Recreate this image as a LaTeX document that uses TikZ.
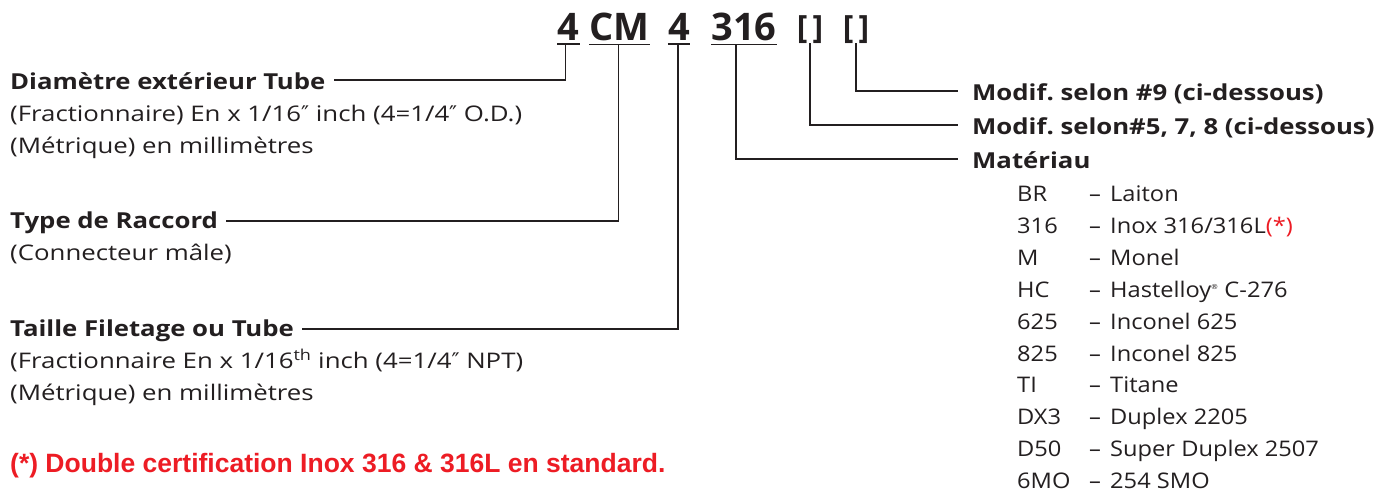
\documentclass[tikz,border=0pt]{standalone}
\usepackage{fontspec}
\setmainfont{Open Sans}
\newfontfamily\headfont{Open Sans}[FakeStretch=1.17]
\newfontfamily\bodyfont{Open Sans}[FakeStretch=1.2]
\newfontfamily\listfont{Open Sans}[FakeStretch=1.1]
\newfontfamily\notefont{Liberation Sans}
\newfontfamily\symfont{DejaVu Sans}
\newcommand{\dprime}{{\symfont ″}}
\usetikzlibrary{positioning}
\definecolor{inkGray}{HTML}{231F20}
\definecolor{noteRed}{HTML}{ED1C24}
\tikzset{
  codepart/.style={inner sep=0pt, anchor=base, text=inkGray,
    font=\fontsize{38}{40}\selectfont\bfseries},
  codebracket/.style={inner sep=0pt, anchor=base, text=inkGray,
    font=\fontsize{32}{34}\selectfont\bfseries},
  head/.style={inner sep=0pt, anchor=base west, text=inkGray,
    font=\headfont\fontsize{22}{26}\selectfont\bfseries\frenchspacing},
  body/.style={inner sep=0pt, anchor=base west, text=inkGray,
    font=\bodyfont\fontsize{21.5}{26}\selectfont},
  item/.style={inner sep=0pt, anchor=base west, text=inkGray,
    font=\listfont\fontsize{21.5}{26}\selectfont},
  leader/.style={line width=1.7pt, draw=inkGray},
}
\begin{document}
\begin{tikzpicture}[x=1pt, y=-1pt]
    \useasboundingbox[fill=white] (0,0) rectangle (1388,491);
    % code de commande
    \node[codepart] (c1) at (568.5,40) {4};
    \node[codepart] (c2) at (619.5,40) {CM};
    \node[codepart] (c3) at (679,40) {4};
    \node[codepart] (c4) at (744,40) {316};
    \node[codebracket] (b1) at (810,38) {[\hspace{5pt}]};
    \node[codebracket] (b2) at (856,38) {[\hspace{5pt}]};
    \foreach \c in {c1,c2,c3,c4}
        \draw[leader] ([yshift=-4pt]\c.south west) -- ([yshift=-4pt]\c.south east);
    % textes de gauche
    \node[head] (diam) at (10,89) {Diamètre extérieur Tube};
    \node[body] (diamA) at (10,121) {(Fractionnaire) En x 1/16\dprime{} inch (4=1/4\dprime{} O.D.)};
    \node[body] (diamB) at (10,153) {(Métrique) en millimètres};
    \node[head] (typ) at (10,228) {Type de Raccord};
    \node[body] (typA) at (10,260) {(Connecteur mâle)};
    \node[head] (tail) at (10,336) {Taille Filetage ou Tube};
    \node[body] (tailA) at (10,368) {(Fractionnaire En x 1/16\textsuperscript{th} inch (4=1/4\dprime{} NPT)};
    \node[body] (tailB) at (10,400) {(Métrique) en millimètres};
    \node[inner sep=0pt, anchor=base west, text=noteRed,
        font=\notefont\fontsize{26.5}{30}\selectfont\bfseries] (note) at (10,472)
        {(*) Double certification Inox 316 \& 316L en standard.};
    % textes de droite
    \node[head] (m9) at (972,100) {Modif. selon \#9 (ci-dessous)};
    \node[head] (m578) at (972,134) {Modif. selon\#5, 7, 8 (ci-dessous)};
    \node[head] (mat) at (972,168) {Matériau};
    % liste des matériaux
    \foreach \code/\name [count=\i from 0] in {BR/Laiton,
        316/{Inox 316/316L\textcolor{noteRed}{(*)}}, M/Monel,
        HC/{Hastelloy\textsuperscript{\scriptsize ®} C-276}, 625/Inconel 625,
        825/Inconel 825, TI/Titane, DX3/Duplex 2205, D50/Super Duplex 2507,
        6MO/254 SMO} {
        \node[item] (code\i) at (1017,201.5+31.9*\i) {\code};
        \node[item] (dash\i) at (1089,201.5+31.9*\i) {–};
        \node[item] (name\i) at (1110,201.5+31.9*\i) {\name};
    }
    % liaisons
    \draw[leader] ([shift={(-3pt,-4pt)}]c1.south) |- ([shift={(8pt,9pt)}]diam.base east);
    \draw[leader] ([shift={(-1pt,-4pt)}]c2.south) |- ([shift={(8pt,7pt)}]typ.base east);
    \draw[leader] ([shift={(-1pt,-4pt)}]c3.south) |- ([shift={(8pt,7pt)}]tail.base east);
    \draw[leader] ([shift={(-8pt,-4pt)}]c4.south) |- ([shift={(-14pt,9pt)}]mat.base west);
    \draw[leader] (b1.south) |- ([shift={(-14pt,9pt)}]m578.base west);
    \draw[leader] (b2.south) |- ([shift={(-14pt,9pt)}]m9.base west);
\end{tikzpicture}
\end{document}
